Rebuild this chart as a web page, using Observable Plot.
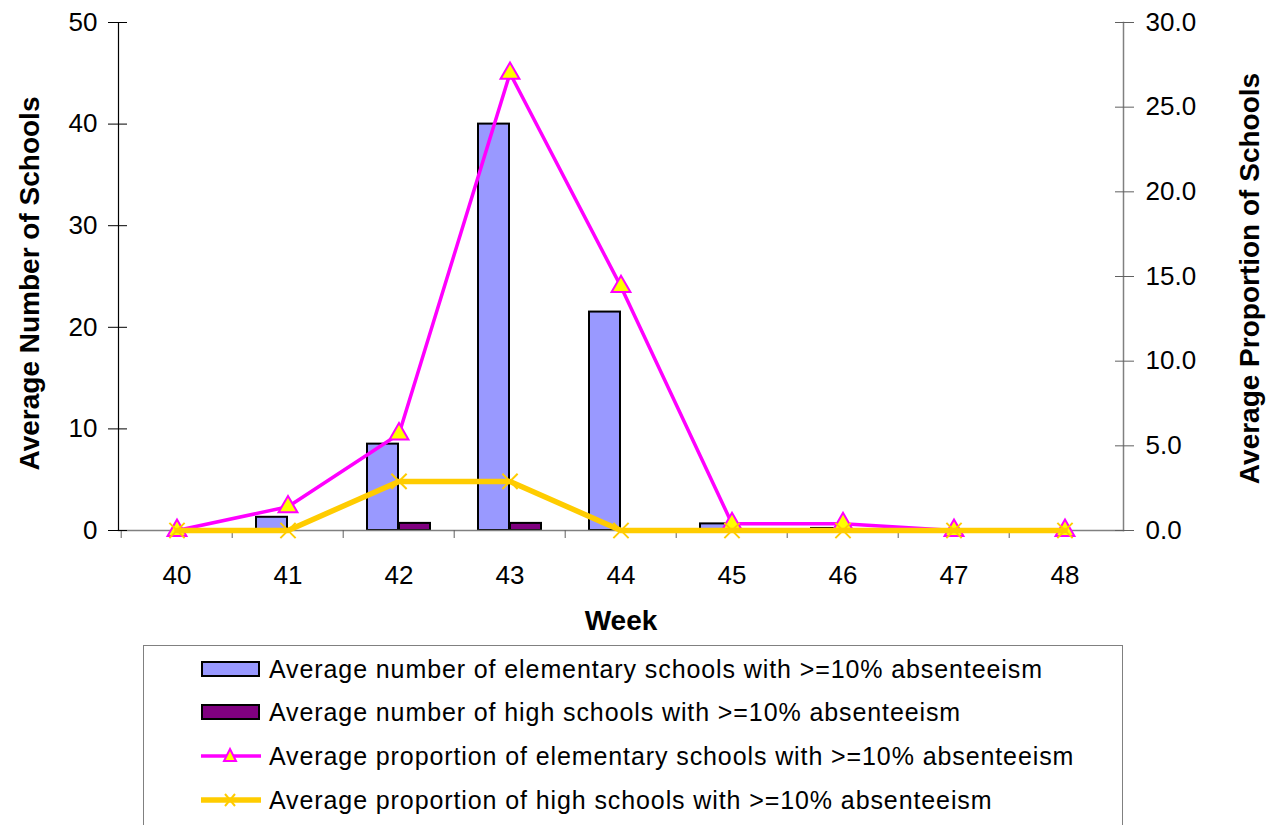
<!DOCTYPE html>
<html>
<head>
<meta charset="utf-8">
<script src="https://cdn.jsdelivr.net/npm/d3@7"></script>
<script src="https://cdn.jsdelivr.net/npm/@observablehq/plot@0.6"></script>
<style>
  html, body { margin: 0; padding: 0; background: white; }
  #wrap { position: relative; width: 1266px; height: 825px; overflow: hidden; font-family: "Liberation Sans", Arial, sans-serif; }
  #legend { position: absolute; left: 143px; top: 645px; width: 980px; height: 200px; border: 1.5px solid #808080; box-sizing: border-box; }
  .row { position: absolute; left: 0; height: 30px; display: flex; align-items: center; }
  .row svg { margin-left: 57px; margin-right: 8px; }
  .row span { font-size: 25px; letter-spacing: 0.9px; color: black; white-space: nowrap; }
</style>
</head>
<body>
<div id="wrap"><div id="chart"></div><div id="legend"></div></div>
<script>
const weeks = ["40", "41", "42", "43", "44", "45", "46", "47", "48"];
const elemCount = [0, 1.3, 8.5, 40, 21.5, 0.65, 0.2, 0, 0];
const highCount = [0, 0, 0.7, 0.7, 0, 0, 0, 0, 0];
const elemProp = [0, 1.4, 5.7, 27.0, 14.4, 0.4, 0.4, 0, 0];
const highProp = [0, 0, 2.9, 2.9, 0, 0, 0, 0, 0];
const leftTicks = [0, 10, 20, 30, 40, 50];
const rightTicks = [0, 5, 10, 15, 20, 25, 30];
const seriesNames = [
  "Average number of elementary schools with >=10% absenteeism",
  "Average number of high schools with >=10% absenteeism",
  "Average proportion of elementary schools with >=10% absenteeism",
  "Average proportion of high schools with >=10% absenteeism"
];
const colors = { elem: "#9999FF", high: "#800080", elemLine: "#FF00FF", highLine: "#FFCC00", tri: "#FFFF00" };

const k = 50 / 30; // right axis -> left axis units
const elemBars = weeks.map((w, i) => ({ week: w, value: elemCount[i] })).filter(d => d.value > 0);
const highBars = weeks.map((w, i) => ({ week: w, value: highCount[i] })).filter(d => d.value > 0);
const elemLine = weeks.map((w, i) => ({ week: w, value: elemProp[i] * k }));
const highLine = weeks.map((w, i) => ({ week: w, value: highProp[i] * k }));

const chart = Plot.plot({
  width: 1266,
  height: 645,
  marginLeft: 118,
  marginRight: 143,
  marginTop: 22,
  marginBottom: 115,
  style: { fontFamily: "'Liberation Sans', Arial, sans-serif", fontSize: "26px", color: "black", background: "white", overflow: "visible" },
  x: { type: "band", domain: weeks, padding: 0, axis: null },
  y: { domain: [0, 50], axis: null },
  marks: [
    Plot.barY(elemBars, { x: "week", y: "value", fill: colors.elem, stroke: "black", strokeWidth: 2, insetLeft: 24, insetRight: 56 }),
    Plot.barY(highBars, { x: "week", y: "value", fill: colors.high, stroke: "black", strokeWidth: 2, insetLeft: 56, insetRight: 24 }),
    Plot.frame({ anchor: "bottom", stroke: "#808080", strokeWidth: 1.5 }),
    Plot.frame({ anchor: "left", stroke: "black", strokeWidth: 1.2 }),
    Plot.frame({ anchor: "right", stroke: "#808080", strokeWidth: 1.5 }),
    Plot.axisX({ tickSize: 8, dx: -55.8, tickFormat: () => "", stroke: "#606060", label: null }),
    Plot.axisX({ tickSize: 0, tickPadding: 35, label: null, fontSize: 26 }),
    Plot.axisY(leftTicks, { anchor: "left", tickSize: 19, dx: 9, tickFormat: () => "", stroke: "black", label: null }),
    Plot.axisY(leftTicks, { anchor: "left", tickSize: 0, tickPadding: 21, label: null, fontSize: 26 }),
    Plot.axisY(rightTicks.map(v => v * k), { anchor: "right", tickSize: 19, dx: -9, tickFormat: () => "", stroke: "#606060", label: null }),
    Plot.axisY(rightTicks.map(v => v * k), { anchor: "right", tickSize: 0, tickPadding: 22, label: null, fontSize: 26, tickFormat: d => (d / k).toFixed(1) }),
    Plot.text(["Average Number of Schools"], { frameAnchor: "left", textAnchor: "middle", rotate: -90, dx: -88, dy: 7, fontSize: 28, fontWeight: "bold" }),
    Plot.text(["Average Proportion of Schools"], { frameAnchor: "right", textAnchor: "middle", rotate: -90, dx: 127, dy: 2, fontSize: 28, fontWeight: "bold" }),
    Plot.text(["Week"], { frameAnchor: "bottom", dy: 99, fontSize: 28, fontWeight: "bold" }),
    Plot.line(elemLine, { x: "week", y: "value", stroke: colors.elemLine, strokeWidth: 3.5 }),
    Plot.dot(elemLine, { x: "week", y: "value", symbol: "triangle", r: 7, fill: colors.tri, stroke: colors.elemLine, strokeWidth: 2 }),
    Plot.line(highLine, { x: "week", y: "value", stroke: colors.highLine, strokeWidth: 5.5 }),
    Plot.dot(highLine, { x: "week", y: "value", symbol: "times", r: 7, stroke: colors.highLine, strokeWidth: 2 })
  ]
});
document.getElementById("chart").appendChild(chart);

// Legend
const legend = document.getElementById("legend");
const rowCenters = [23, 66, 110, 154];
const symbols = [
  `<svg width="60" height="20"><rect x="1" y="3" width="57" height="14" fill="${colors.elem}" stroke="black" stroke-width="2"/></svg>`,
  `<svg width="60" height="20"><rect x="1" y="3" width="57" height="14" fill="${colors.high}" stroke="black" stroke-width="2"/></svg>`,
  `<svg width="60" height="20"><line x1="0" y1="10" x2="60" y2="10" stroke="${colors.elemLine}" stroke-width="3.5"/><path d="M29,3 L35,15 L23,15 Z" fill="${colors.tri}" stroke="${colors.elemLine}" stroke-width="2"/></svg>`,
  `<svg width="60" height="20"><line x1="0" y1="10" x2="60" y2="10" stroke="${colors.highLine}" stroke-width="5.5"/><path d="M24,4 L34,16 M34,4 L24,16" stroke="${colors.highLine}" stroke-width="2"/></svg>`
];
seriesNames.forEach((name, i) => {
  const row = document.createElement("div");
  row.className = "row";
  row.style.top = (rowCenters[i] - 15) + "px";
  row.innerHTML = symbols[i] + `<span>${name.replace(/>/g, "&gt;")}</span>`;
  legend.appendChild(row);
});
</script>
</body>
</html>
